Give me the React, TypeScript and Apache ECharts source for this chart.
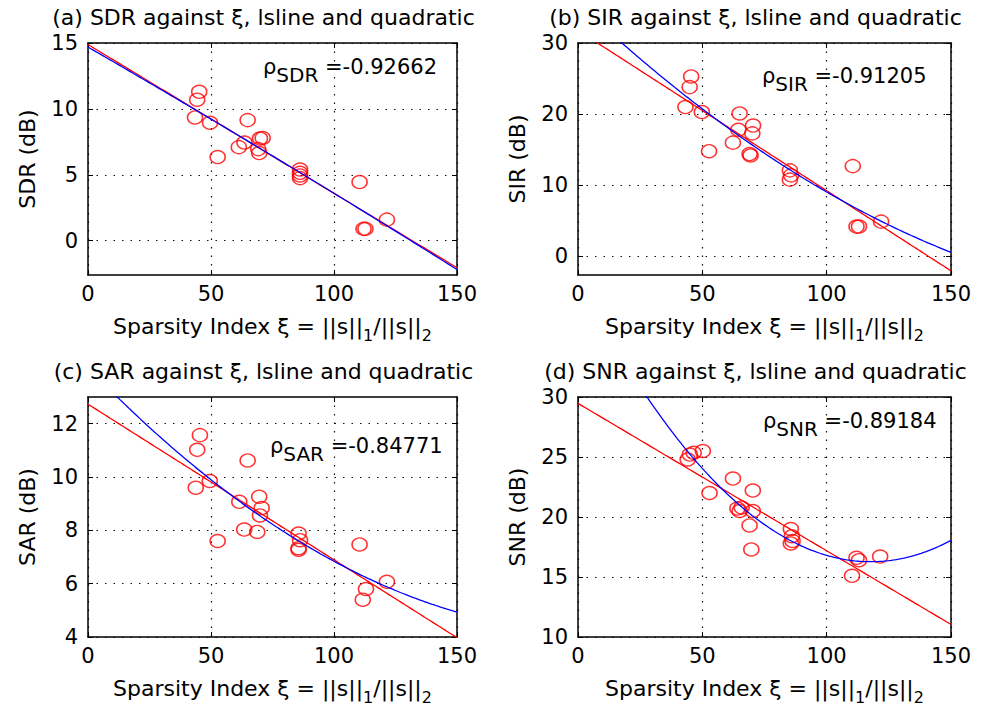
import React, { useEffect, useRef } from 'react';
import * as echarts from 'echarts';

const FONT = 'DejaVu Sans';

const sdrX = [45.2, 44.4, 43.5, 49.6, 64.9, 52.7, 61.3, 63.6, 69.9, 71.0, 69.2, 69.6, 86.2, 86.2, 86.2, 86.2, 110.4, 112.0, 112.8, 121.5];
const sdrY = [11.3, 10.7, 9.35, 8.95, 9.15, 6.35, 7.1, 7.45, 7.75, 7.8, 6.95, 6.65, 5.4, 5.15, 4.95, 4.75, 4.45, 0.9, 0.9, 1.6];

const sirX = [45.5, 44.9, 43.2, 49.8, 65.0, 52.7, 62.3, 64.5, 70.4, 70.1, 69.0, 69.4, 85.2, 85.7, 85.2, 110.5, 112.0, 113.0, 121.9];
const sirY = [25.3, 23.8, 21.0, 20.3, 20.1, 14.8, 16.0, 17.8, 18.4, 17.3, 14.4, 14.2, 12.1, 11.4, 10.8, 12.7, 4.2, 4.2, 4.9];

const sarX = [45.5, 44.4, 43.8, 49.5, 64.9, 52.7, 61.5, 63.5, 69.6, 70.6, 69.9, 68.8, 85.6, 86.2, 85.6, 85.6, 110.4, 113.0, 111.7, 121.5];
const sarY = [11.57, 11.02, 9.6, 9.85, 10.62, 7.6, 9.07, 8.03, 9.26, 8.84, 8.56, 7.94, 7.88, 7.63, 7.33, 7.27, 7.47, 5.8, 5.4, 6.07];

const snrX = [44.1, 45.0, 46.5, 50.2, 52.9, 62.3, 64.1, 65.0, 65.8, 70.3, 70.3, 69.0, 69.7, 85.6, 86.0, 86.3, 85.6, 112.0, 113.0, 110.2, 121.5];
const snrY = [24.8, 25.2, 25.35, 25.5, 22.0, 23.2, 20.7, 20.5, 20.8, 22.2, 20.5, 19.3, 17.3, 19.0, 18.4, 18.0, 17.8, 16.6, 16.4, 15.1, 16.7];

const xTicks = [0, 50, 100, 150];
const sdrTicks = [0, 5, 10, 15];
const sirTicks = [0, 10, 20, 30];
const sarTicks = [4, 6, 8, 10, 12];
const snrTicks = [10, 15, 20, 25, 30];

const panelNames = ['SDR', 'SIR', 'SAR', 'SNR'];
const panelLetters = ['a', 'b', 'c', 'd'];
const rhoValues = ['-0.92662', '-0.91205', '-0.84771', '-0.89184'];

const panels = [
  { x: sdrX, y: sdrY, ticks: sdrTicks, min: -2.6, max: 15 },
  { x: sirX, y: sirY, ticks: sirTicks, min: -2.6, max: 30 },
  { x: sarX, y: sarY, ticks: sarTicks, min: 4, max: 13 },
  { x: snrX, y: snrY, ticks: snrTicks, min: 10, max: 30 },
];

const grids = [
  { left: 88, top: 43, width: 369, height: 232 },
  { left: 578, top: 43, width: 373, height: 232 },
  { left: 88, top: 397, width: 369, height: 240 },
  { left: 578, top: 397, width: 373, height: 240 },
];

const rhoPos = [
  [263, 56],
  [762, 65],
  [270, 435],
  [763, 410],
];

// least-squares polynomial fit (as lsline / polyfit do)
function polyfit(xs: number[], ys: number[], deg: number): number[] {
  const n = deg + 1;
  const A: number[][] = Array.from({ length: n }, () => new Array(n + 1).fill(0));
  for (let k = 0; k < xs.length; k++) {
    for (let i = 0; i < n; i++) {
      for (let j = 0; j < n; j++) A[i][j] += Math.pow(xs[k], i + j);
      A[i][n] += ys[k] * Math.pow(xs[k], i);
    }
  }
  for (let i = 0; i < n; i++) {
    let p = i;
    for (let r = i + 1; r < n; r++) if (Math.abs(A[r][i]) > Math.abs(A[p][i])) p = r;
    const tmp = A[i]; A[i] = A[p]; A[p] = tmp;
    for (let r = 0; r < n; r++) {
      if (r === i) continue;
      const f = A[r][i] / A[i][i];
      for (let c = i; c <= n; c++) A[r][c] -= f * A[i][c];
    }
  }
  return A.map((row, i) => row[n] / row[i]);
}

function fitCurve(xs: number[], ys: number[], deg: number): number[][] {
  const c = polyfit(xs, ys, deg);
  const out: number[][] = [];
  for (let xv = 0; xv <= 150; xv += 1) {
    let v = 0;
    for (let i = 0; i < c.length; i++) v += c[i] * Math.pow(xv, i);
    out.push([xv, v]);
  }
  return out;
}

const axisLine = { show: true, onZero: false, lineStyle: { color: '#000', width: 1.5 } };
const axisTick = { show: true, inside: true, length: 5, lineStyle: { color: '#000', width: 1 } };
const gridLine = { show: true, lineStyle: { color: '#111', width: 1.2, type: [1.5, 7] } };

export default function App() {
  const ref = useRef<HTMLDivElement>(null);
  useEffect(() => {
    if (!ref.current) return;
    const chart = echarts.init(ref.current, undefined, { renderer: 'svg' });
    const xAxis: any[] = [];
    const yAxis: any[] = [];
    const series: any[] = [];
    const graphic: any[] = [];

    panels.forEach((p, i) => {
      xAxis.push({
        gridIndex: i, type: 'value', min: 0, max: 150, position: 'bottom',
        axisLine, axisTick: { ...axisTick, customValues: xTicks },
        axisLabel: { show: true, color: '#000', fontSize: 21, fontFamily: FONT, margin: 8, customValues: xTicks, showMinLabel: true, showMaxLabel: true },
        splitLine: gridLine,
        name: '{m|Sparsity Index ξ = ||s||}{s|1}{m|/||s||}{s|2}',
        nameLocation: 'middle', nameGap: 40,
        nameTextStyle: {
          fontSize: 22, fontFamily: FONT, color: '#000',
          rich: {
            m: { fontSize: 22, fontFamily: FONT, color: '#000', lineHeight: 26, verticalAlign: 'top' },
            s: { fontSize: 16, fontFamily: FONT, color: '#000', lineHeight: 16, padding: [12, 0, 0, 0], verticalAlign: 'top' },
          },
        },
      });
      xAxis.push({
        gridIndex: i, type: 'value', min: 0, max: 150, position: 'top',
        axisLine, axisTick: { ...axisTick, customValues: xTicks },
        axisLabel: { show: false }, splitLine: { show: false },
      });
      yAxis.push({
        gridIndex: i, type: 'value', min: p.min, max: p.max, position: 'left',
        axisLine, axisTick: { ...axisTick, customValues: p.ticks },
        axisLabel: { show: true, color: '#000', fontSize: 21, fontFamily: FONT, margin: 10, customValues: p.ticks },
        splitLine: gridLine,
        name: panelNames[i] + ' (dB)', nameLocation: 'middle', nameGap: 50,
        nameTextStyle: { fontSize: 22, fontFamily: FONT, color: '#000' },
      });
      yAxis.push({
        gridIndex: i, type: 'value', min: p.min, max: p.max, position: 'right',
        axisLine, axisTick: { ...axisTick, customValues: p.ticks },
        axisLabel: { show: false }, splitLine: { show: false },
      });

      series.push({
        type: 'scatter', xAxisIndex: 2 * i, yAxisIndex: 2 * i, silent: true,
        data: p.x.map((xv, k) => [xv, p.y[k]]),
        symbol: 'circle', symbolSize: [15, 13],
        itemStyle: { color: 'rgba(0,0,0,0)', borderColor: '#ff0000', borderWidth: 1.5 },
        z: 2,
      });
      series.push({
        type: 'line', xAxisIndex: 2 * i, yAxisIndex: 2 * i, silent: true, clip: true,
        data: fitCurve(p.x, p.y, 1), showSymbol: false, symbol: 'none',
        lineStyle: { color: '#ff0000', width: 1.3 }, z: 3,
      });
      series.push({
        type: 'line', xAxisIndex: 2 * i, yAxisIndex: 2 * i, silent: true, clip: true,
        data: fitCurve(p.x, p.y, 2), showSymbol: false, symbol: 'none',
        lineStyle: { color: '#0000ff', width: 1.3 }, z: 4,
      });

      const g = grids[i];
      graphic.push({
        type: 'text', x: g.left + g.width / 2 - 9, y: i < 2 ? 17 : 371, silent: true,
        style: {
          text: '(' + panelLetters[i] + ') ' + panelNames[i] + ' against ξ, lsline and quadratic',
          fontSize: 22, fontFamily: FONT, fill: '#000', align: 'center', verticalAlign: 'middle',
        },
      });
      graphic.push({
        type: 'text', x: rhoPos[i][0], y: rhoPos[i][1], silent: true, z: 10,
        style: {
          text: '{m|ρ}{s|' + panelNames[i] + '}{m| =' + rhoValues[i] + '}',
          align: 'left', verticalAlign: 'top',
          rich: {
            m: { fontSize: 21, fontFamily: FONT, fill: '#000', color: '#000', lineHeight: 24, verticalAlign: 'top' },
            s: { fontSize: 20, fontFamily: FONT, fill: '#000', color: '#000', lineHeight: 22, padding: [9, 0, 0, 0], verticalAlign: 'top' },
          },
        },
      });
    });

    chart.setOption({
      animation: false,
      backgroundColor: '#fff',
      grid: grids.map(g => ({ ...g, containLabel: false, outerBoundsMode: 'none' })),
      xAxis, yAxis, series, graphic,
    });
    return () => chart.dispose();
  }, []);
  return <div ref={ref} style={{ position: 'fixed', left: 0, top: 0, width: 986, height: 711, background: '#fff' }} />;
}
